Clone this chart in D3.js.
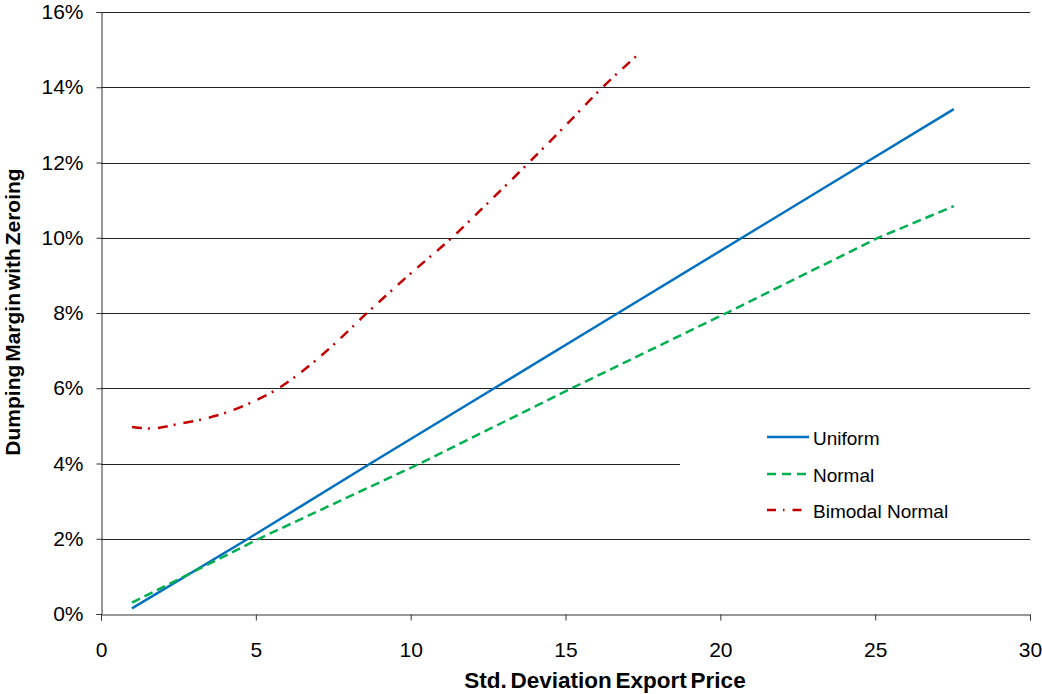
<!DOCTYPE html>
<html><head><meta charset="utf-8">
<script src="https://cdn.jsdelivr.net/npm/d3@7"></script>
<style>body{margin:0;background:#fff}svg{display:block}text{font-family:"Liberation Sans",Arial,sans-serif}</style>
</head><body><svg id="c" width="1042" height="694"></svg>
<script>
const seriesNames = ["Uniform", "Normal", "Bimodal Normal"];
const uniformX = [1, 4.75, 8.7, 12.7, 16.7, 20.7, 24.7, 27.54];
const uniformY = [0.0015, 0.02, 0.04, 0.06, 0.08, 0.10, 0.12, 0.1342];
const normalX = [1, 5.1, 10.3, 15.2, 20.2, 25.1, 27.54];
const normalY = [0.003, 0.02, 0.04, 0.06, 0.08, 0.10, 0.1084];
const bimodalX = [1, 1.6, 2.5, 3.3, 4.1, 4.9, 5.7, 6.5, 7.5, 8.59, 10, 11.33, 12.5, 13.82, 15, 16.2, 17.44];
const bimodalY = [0.0497, 0.0493, 0.0505, 0.0518, 0.0537, 0.0564, 0.0598, 0.0645, 0.0715, 0.08, 0.0905, 0.10, 0.1093, 0.12, 0.1298, 0.14, 0.1494];
const xTicks = [0, 5, 10, 15, 20, 25, 30];
const yTicks = [0, 0.02, 0.04, 0.06, 0.08, 0.10, 0.12, 0.14, 0.16];

const FONT = "Liberation Sans, Arial, sans-serif";
const svg = d3.select("#c");
const x = d3.scaleLinear().domain([0, 30]).range([101, 1030]);
const y = d3.scaleLinear().domain([0, 0.16]).range([614, 12]);

// gridlines
svg.append("g").selectAll("line").data(yTicks.filter(d => d > 0)).join("line")
  .attr("x1", x(0)).attr("x2", x(30))
  .attr("y1", d => Math.round(y(d)) + 0.5).attr("y2", d => Math.round(y(d)) + 0.5)
  .attr("stroke", "#222").attr("stroke-width", 1);

// y axis
const yAxis = svg.append("g").attr("transform", `translate(${x(0) + 0.5},0)`)
  .call(d3.axisLeft(y).tickValues(yTicks).tickFormat(d3.format(".0%")).tickSizeOuter(0).tickSize(5).tickPadding(13));
yAxis.selectAll("text").attr("font-size", 21).attr("fill", "#000").attr("font-family", FONT);
yAxis.selectAll("line,path").attr("stroke", "#333");

// x axis
const xAxis = svg.append("g").attr("transform", `translate(0,${Math.round(y(0)) + 0.5})`)
  .call(d3.axisBottom(x).tickValues(xTicks).tickSizeOuter(0).tickSize(6).tickPadding(22));
xAxis.selectAll("text").attr("font-size", 21).attr("fill", "#000").attr("font-family", FONT);
xAxis.selectAll("line,path").attr("stroke", "#333");

// legend background (covers gridline)
svg.append("rect").attr("x", 680).attr("y", 400).attr("width", 360).attr("height", 130).attr("fill", "#fff");

const series = [
  {name: seriesNames[0], xs: uniformX, ys: uniformY, color: "#0070C0", dash: null, curve: d3.curveLinear},
  {name: seriesNames[1], xs: normalX, ys: normalY, color: "#00B050", dash: "9,5", curve: d3.curveLinear},
  {name: seriesNames[2], xs: bimodalX, ys: bimodalY, color: "#C00000", dash: "10,6,2,8", curve: d3.curveMonotoneX}
];
series.forEach(s => {
  const pts = s.xs.map((v, i) => [v, s.ys[i]]);
  const gen = d3.line().x(d => x(d[0])).y(d => y(d[1])).curve(s.curve);
  svg.append("path").attr("d", gen(pts))
    .attr("fill", "none").attr("stroke", s.color).attr("stroke-width", 2.5)
    .attr("stroke-dasharray", s.dash);
});

// legend
const legY = [437, 474, 510];
const legDash = [null, "9,6", "9,7,1.5,8,9"];
series.forEach((s, i) => {
  svg.append("line").attr("x1", 767).attr("x2", 809).attr("y1", legY[i]).attr("y2", legY[i])
    .attr("stroke", s.color).attr("stroke-width", 2.5).attr("stroke-dasharray", legDash[i]);
  svg.append("text").attr("x", 813).attr("y", legY[i] + 7.5).attr("font-size", 19).attr("fill", "#000").text(s.name);
});

// axis titles
svg.append("text").attr("x", 605).attr("y", 688).attr("text-anchor", "middle").attr("word-spacing", -2.5)
  .attr("font-size", 22.5).attr("font-weight", "bold").attr("fill", "#000").text("Std. Deviation Export Price");
svg.append("text").attr("transform", "translate(20,312) rotate(-90)").attr("text-anchor", "middle").attr("word-spacing", -3)
  .attr("font-size", 21).attr("font-weight", "bold").attr("fill", "#000").text("Dumping Margin with Zeroing");
</script></body></html>
